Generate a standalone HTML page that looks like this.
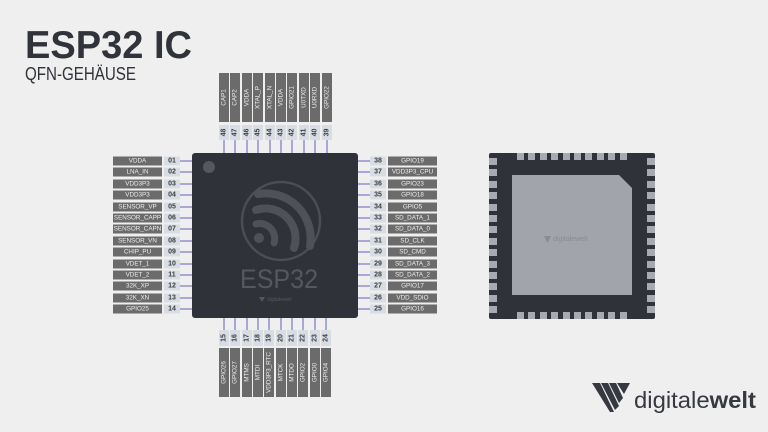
<!DOCTYPE html>
<html><head><meta charset="utf-8"><style>
html,body{margin:0;padding:0;background:#efefef;}
svg{display:block;font-family:"Liberation Sans",sans-serif;}
.lb{fill:#6b6b6b}.nb{fill:#d8dde4}
.lt{fill:#eeeeee;font-size:6.3px;text-anchor:middle;dominant-baseline:central}
.nt{fill:#3a3d44;font-size:7px;text-anchor:middle;dominant-baseline:central;font-weight:bold}
.ln{stroke:#7d76c9;stroke-width:1.2}
</style></head><body>
<svg width="768" height="432" viewBox="0 0 768 432">
<rect width="768" height="432" fill="#efefef"/>
<text x="25" y="58" font-size="39" font-weight="bold" fill="#30333a" textLength="167" lengthAdjust="spacingAndGlyphs">ESP32 IC</text>
<text x="25" y="80" font-size="18" fill="#30333a" textLength="111" lengthAdjust="spacingAndGlyphs">QFN-GEHÄUSE</text>

<!-- left pins -->
<g>
<g transform="translate(0,161)"><line class="ln" x1="180" x2="194" y1="0" y2="0"/><rect class="lb" x="113" y="-4.5" width="49" height="9"/><rect class="nb" x="164" y="-4.5" width="16" height="9"/><text class="lt" x="137.5" y="0">VDDA</text><text class="nt" x="172" y="0">01</text></g>
<g transform="translate(0,172)"><line class="ln" x1="180" x2="194" y1="0" y2="0"/><rect class="lb" x="113" y="-4.5" width="49" height="9"/><rect class="nb" x="164" y="-4.5" width="16" height="9"/><text class="lt" x="137.5" y="0">LNA_IN</text><text class="nt" x="172" y="0">02</text></g>
<g transform="translate(0,184)"><line class="ln" x1="180" x2="194" y1="0" y2="0"/><rect class="lb" x="113" y="-4.5" width="49" height="9"/><rect class="nb" x="164" y="-4.5" width="16" height="9"/><text class="lt" x="137.5" y="0">VDD3P3</text><text class="nt" x="172" y="0">03</text></g>
<g transform="translate(0,195)"><line class="ln" x1="180" x2="194" y1="0" y2="0"/><rect class="lb" x="113" y="-4.5" width="49" height="9"/><rect class="nb" x="164" y="-4.5" width="16" height="9"/><text class="lt" x="137.5" y="0">VDD3P3</text><text class="nt" x="172" y="0">04</text></g>
<g transform="translate(0,207)"><line class="ln" x1="180" x2="194" y1="0" y2="0"/><rect class="lb" x="113" y="-4.5" width="49" height="9"/><rect class="nb" x="164" y="-4.5" width="16" height="9"/><text class="lt" x="137.5" y="0">SENSOR_VP</text><text class="nt" x="172" y="0">05</text></g>
<g transform="translate(0,218)"><line class="ln" x1="180" x2="194" y1="0" y2="0"/><rect class="lb" x="113" y="-4.5" width="49" height="9"/><rect class="nb" x="164" y="-4.5" width="16" height="9"/><text class="lt" x="137.5" y="0">SENSOR_CAPP</text><text class="nt" x="172" y="0">06</text></g>
<g transform="translate(0,229)"><line class="ln" x1="180" x2="194" y1="0" y2="0"/><rect class="lb" x="113" y="-4.5" width="49" height="9"/><rect class="nb" x="164" y="-4.5" width="16" height="9"/><text class="lt" x="137.5" y="0">SENSOR_CAPN</text><text class="nt" x="172" y="0">07</text></g>
<g transform="translate(0,241)"><line class="ln" x1="180" x2="194" y1="0" y2="0"/><rect class="lb" x="113" y="-4.5" width="49" height="9"/><rect class="nb" x="164" y="-4.5" width="16" height="9"/><text class="lt" x="137.5" y="0">SENSOR_VN</text><text class="nt" x="172" y="0">08</text></g>
<g transform="translate(0,252)"><line class="ln" x1="180" x2="194" y1="0" y2="0"/><rect class="lb" x="113" y="-4.5" width="49" height="9"/><rect class="nb" x="164" y="-4.5" width="16" height="9"/><text class="lt" x="137.5" y="0">CHIP_PU</text><text class="nt" x="172" y="0">09</text></g>
<g transform="translate(0,264)"><line class="ln" x1="180" x2="194" y1="0" y2="0"/><rect class="lb" x="113" y="-4.5" width="49" height="9"/><rect class="nb" x="164" y="-4.5" width="16" height="9"/><text class="lt" x="137.5" y="0">VDET_1</text><text class="nt" x="172" y="0">10</text></g>
<g transform="translate(0,275)"><line class="ln" x1="180" x2="194" y1="0" y2="0"/><rect class="lb" x="113" y="-4.5" width="49" height="9"/><rect class="nb" x="164" y="-4.5" width="16" height="9"/><text class="lt" x="137.5" y="0">VDET_2</text><text class="nt" x="172" y="0">11</text></g>
<g transform="translate(0,286)"><line class="ln" x1="180" x2="194" y1="0" y2="0"/><rect class="lb" x="113" y="-4.5" width="49" height="9"/><rect class="nb" x="164" y="-4.5" width="16" height="9"/><text class="lt" x="137.5" y="0">32K_XP</text><text class="nt" x="172" y="0">12</text></g>
<g transform="translate(0,298)"><line class="ln" x1="180" x2="194" y1="0" y2="0"/><rect class="lb" x="113" y="-4.5" width="49" height="9"/><rect class="nb" x="164" y="-4.5" width="16" height="9"/><text class="lt" x="137.5" y="0">32K_XN</text><text class="nt" x="172" y="0">13</text></g>
<g transform="translate(0,309)"><line class="ln" x1="180" x2="194" y1="0" y2="0"/><rect class="lb" x="113" y="-4.5" width="49" height="9"/><rect class="nb" x="164" y="-4.5" width="16" height="9"/><text class="lt" x="137.5" y="0">GPIO25</text><text class="nt" x="172" y="0">14</text></g>
</g>

<!-- right pins -->
<g>
<g transform="translate(0,161)"><line class="ln" x1="356" x2="370" y1="0" y2="0"/><rect class="nb" x="370" y="-4.5" width="16" height="9"/><rect class="lb" x="388" y="-4.5" width="49" height="9"/><text class="nt" x="378" y="0">38</text><text class="lt" x="412.5" y="0">GPIO19</text></g>
<g transform="translate(0,172)"><line class="ln" x1="356" x2="370" y1="0" y2="0"/><rect class="nb" x="370" y="-4.5" width="16" height="9"/><rect class="lb" x="388" y="-4.5" width="49" height="9"/><text class="nt" x="378" y="0">37</text><text class="lt" x="412.5" y="0">VDD3P3_CPU</text></g>
<g transform="translate(0,184)"><line class="ln" x1="356" x2="370" y1="0" y2="0"/><rect class="nb" x="370" y="-4.5" width="16" height="9"/><rect class="lb" x="388" y="-4.5" width="49" height="9"/><text class="nt" x="378" y="0">36</text><text class="lt" x="412.5" y="0">GPIO23</text></g>
<g transform="translate(0,195)"><line class="ln" x1="356" x2="370" y1="0" y2="0"/><rect class="nb" x="370" y="-4.5" width="16" height="9"/><rect class="lb" x="388" y="-4.5" width="49" height="9"/><text class="nt" x="378" y="0">35</text><text class="lt" x="412.5" y="0">GPIO18</text></g>
<g transform="translate(0,207)"><line class="ln" x1="356" x2="370" y1="0" y2="0"/><rect class="nb" x="370" y="-4.5" width="16" height="9"/><rect class="lb" x="388" y="-4.5" width="49" height="9"/><text class="nt" x="378" y="0">34</text><text class="lt" x="412.5" y="0">GPIO5</text></g>
<g transform="translate(0,218)"><line class="ln" x1="356" x2="370" y1="0" y2="0"/><rect class="nb" x="370" y="-4.5" width="16" height="9"/><rect class="lb" x="388" y="-4.5" width="49" height="9"/><text class="nt" x="378" y="0">33</text><text class="lt" x="412.5" y="0">SD_DATA_1</text></g>
<g transform="translate(0,229)"><line class="ln" x1="356" x2="370" y1="0" y2="0"/><rect class="nb" x="370" y="-4.5" width="16" height="9"/><rect class="lb" x="388" y="-4.5" width="49" height="9"/><text class="nt" x="378" y="0">32</text><text class="lt" x="412.5" y="0">SD_DATA_0</text></g>
<g transform="translate(0,241)"><line class="ln" x1="356" x2="370" y1="0" y2="0"/><rect class="nb" x="370" y="-4.5" width="16" height="9"/><rect class="lb" x="388" y="-4.5" width="49" height="9"/><text class="nt" x="378" y="0">31</text><text class="lt" x="412.5" y="0">SD_CLK</text></g>
<g transform="translate(0,252)"><line class="ln" x1="356" x2="370" y1="0" y2="0"/><rect class="nb" x="370" y="-4.5" width="16" height="9"/><rect class="lb" x="388" y="-4.5" width="49" height="9"/><text class="nt" x="378" y="0">30</text><text class="lt" x="412.5" y="0">SD_CMD</text></g>
<g transform="translate(0,264)"><line class="ln" x1="356" x2="370" y1="0" y2="0"/><rect class="nb" x="370" y="-4.5" width="16" height="9"/><rect class="lb" x="388" y="-4.5" width="49" height="9"/><text class="nt" x="378" y="0">29</text><text class="lt" x="412.5" y="0">SD_DATA_3</text></g>
<g transform="translate(0,275)"><line class="ln" x1="356" x2="370" y1="0" y2="0"/><rect class="nb" x="370" y="-4.5" width="16" height="9"/><rect class="lb" x="388" y="-4.5" width="49" height="9"/><text class="nt" x="378" y="0">28</text><text class="lt" x="412.5" y="0">SD_DATA_2</text></g>
<g transform="translate(0,286)"><line class="ln" x1="356" x2="370" y1="0" y2="0"/><rect class="nb" x="370" y="-4.5" width="16" height="9"/><rect class="lb" x="388" y="-4.5" width="49" height="9"/><text class="nt" x="378" y="0">27</text><text class="lt" x="412.5" y="0">GPIO17</text></g>
<g transform="translate(0,298)"><line class="ln" x1="356" x2="370" y1="0" y2="0"/><rect class="nb" x="370" y="-4.5" width="16" height="9"/><rect class="lb" x="388" y="-4.5" width="49" height="9"/><text class="nt" x="378" y="0">26</text><text class="lt" x="412.5" y="0">VDD_SDIO</text></g>
<g transform="translate(0,309)"><line class="ln" x1="356" x2="370" y1="0" y2="0"/><rect class="nb" x="370" y="-4.5" width="16" height="9"/><rect class="lb" x="388" y="-4.5" width="49" height="9"/><text class="nt" x="378" y="0">25</text><text class="lt" x="412.5" y="0">GPIO16</text></g>
</g>

<!-- top pins -->
<g>
<g transform="translate(224,0)"><line class="ln" x1="0" x2="0" y1="140" y2="155"/><rect class="lb" x="-5" y="73" width="10" height="49"/><rect class="nb" x="-5" y="125" width="10" height="15"/><text class="lt" transform="translate(0,97.5) rotate(-90)">CAP1</text><text class="nt" transform="translate(0,132.5) rotate(-90)">48</text></g>
<g transform="translate(235,0)"><line class="ln" x1="0" x2="0" y1="140" y2="155"/><rect class="lb" x="-5" y="73" width="10" height="49"/><rect class="nb" x="-5" y="125" width="10" height="15"/><text class="lt" transform="translate(0,97.5) rotate(-90)">CAP2</text><text class="nt" transform="translate(0,132.5) rotate(-90)">47</text></g>
<g transform="translate(247,0)"><line class="ln" x1="0" x2="0" y1="140" y2="155"/><rect class="lb" x="-5" y="73" width="10" height="49"/><rect class="nb" x="-5" y="125" width="10" height="15"/><text class="lt" transform="translate(0,97.5) rotate(-90)">VDDA</text><text class="nt" transform="translate(0,132.5) rotate(-90)">46</text></g>
<g transform="translate(258,0)"><line class="ln" x1="0" x2="0" y1="140" y2="155"/><rect class="lb" x="-5" y="73" width="10" height="49"/><rect class="nb" x="-5" y="125" width="10" height="15"/><text class="lt" transform="translate(0,97.5) rotate(-90)">XTAL_P</text><text class="nt" transform="translate(0,132.5) rotate(-90)">45</text></g>
<g transform="translate(270,0)"><line class="ln" x1="0" x2="0" y1="140" y2="155"/><rect class="lb" x="-5" y="73" width="10" height="49"/><rect class="nb" x="-5" y="125" width="10" height="15"/><text class="lt" transform="translate(0,97.5) rotate(-90)">XTAL_N</text><text class="nt" transform="translate(0,132.5) rotate(-90)">44</text></g>
<g transform="translate(281,0)"><line class="ln" x1="0" x2="0" y1="140" y2="155"/><rect class="lb" x="-5" y="73" width="10" height="49"/><rect class="nb" x="-5" y="125" width="10" height="15"/><text class="lt" transform="translate(0,97.5) rotate(-90)">VDDA</text><text class="nt" transform="translate(0,132.5) rotate(-90)">43</text></g>
<g transform="translate(292,0)"><line class="ln" x1="0" x2="0" y1="140" y2="155"/><rect class="lb" x="-5" y="73" width="10" height="49"/><rect class="nb" x="-5" y="125" width="10" height="15"/><text class="lt" transform="translate(0,97.5) rotate(-90)">GPIO21</text><text class="nt" transform="translate(0,132.5) rotate(-90)">42</text></g>
<g transform="translate(304,0)"><line class="ln" x1="0" x2="0" y1="140" y2="155"/><rect class="lb" x="-5" y="73" width="10" height="49"/><rect class="nb" x="-5" y="125" width="10" height="15"/><text class="lt" transform="translate(0,97.5) rotate(-90)">U0TXD</text><text class="nt" transform="translate(0,132.5) rotate(-90)">41</text></g>
<g transform="translate(315,0)"><line class="ln" x1="0" x2="0" y1="140" y2="155"/><rect class="lb" x="-5" y="73" width="10" height="49"/><rect class="nb" x="-5" y="125" width="10" height="15"/><text class="lt" transform="translate(0,97.5) rotate(-90)">U0RXD</text><text class="nt" transform="translate(0,132.5) rotate(-90)">40</text></g>
<g transform="translate(327,0)"><line class="ln" x1="0" x2="0" y1="140" y2="155"/><rect class="lb" x="-5" y="73" width="10" height="49"/><rect class="nb" x="-5" y="125" width="10" height="15"/><text class="lt" transform="translate(0,97.5) rotate(-90)">GPIO22</text><text class="nt" transform="translate(0,132.5) rotate(-90)">39</text></g>
</g>

<!-- bottom pins -->
<g>
<g transform="translate(224,0)"><line class="ln" x1="0" x2="0" y1="316" y2="330"/><rect class="nb" x="-5" y="330" width="10" height="16"/><rect class="lb" x="-5" y="348" width="10" height="49"/><text class="nt" transform="translate(0,338) rotate(-90)">15</text><text class="lt" transform="translate(0,372.5) rotate(-90)">GPIO26</text></g>
<g transform="translate(235,0)"><line class="ln" x1="0" x2="0" y1="316" y2="330"/><rect class="nb" x="-5" y="330" width="10" height="16"/><rect class="lb" x="-5" y="348" width="10" height="49"/><text class="nt" transform="translate(0,338) rotate(-90)">16</text><text class="lt" transform="translate(0,372.5) rotate(-90)">GPIO27</text></g>
<g transform="translate(247,0)"><line class="ln" x1="0" x2="0" y1="316" y2="330"/><rect class="nb" x="-5" y="330" width="10" height="16"/><rect class="lb" x="-5" y="348" width="10" height="49"/><text class="nt" transform="translate(0,338) rotate(-90)">17</text><text class="lt" transform="translate(0,372.5) rotate(-90)">MTMS</text></g>
<g transform="translate(258,0)"><line class="ln" x1="0" x2="0" y1="316" y2="330"/><rect class="nb" x="-5" y="330" width="10" height="16"/><rect class="lb" x="-5" y="348" width="10" height="49"/><text class="nt" transform="translate(0,338) rotate(-90)">18</text><text class="lt" transform="translate(0,372.5) rotate(-90)">MTDI</text></g>
<g transform="translate(269,0)"><line class="ln" x1="0" x2="0" y1="316" y2="330"/><rect class="nb" x="-5" y="330" width="10" height="16"/><rect class="lb" x="-5" y="348" width="10" height="49"/><text class="nt" transform="translate(0,338) rotate(-90)">19</text><text class="lt" transform="translate(0,372.5) rotate(-90)">VDD3P3_RTC</text></g>
<g transform="translate(281,0)"><line class="ln" x1="0" x2="0" y1="316" y2="330"/><rect class="nb" x="-5" y="330" width="10" height="16"/><rect class="lb" x="-5" y="348" width="10" height="49"/><text class="nt" transform="translate(0,338) rotate(-90)">20</text><text class="lt" transform="translate(0,372.5) rotate(-90)">MTCK</text></g>
<g transform="translate(292,0)"><line class="ln" x1="0" x2="0" y1="316" y2="330"/><rect class="nb" x="-5" y="330" width="10" height="16"/><rect class="lb" x="-5" y="348" width="10" height="49"/><text class="nt" transform="translate(0,338) rotate(-90)">21</text><text class="lt" transform="translate(0,372.5) rotate(-90)">MTDO</text></g>
<g transform="translate(303,0)"><line class="ln" x1="0" x2="0" y1="316" y2="330"/><rect class="nb" x="-5" y="330" width="10" height="16"/><rect class="lb" x="-5" y="348" width="10" height="49"/><text class="nt" transform="translate(0,338) rotate(-90)">22</text><text class="lt" transform="translate(0,372.5) rotate(-90)">GPIO2</text></g>
<g transform="translate(315,0)"><line class="ln" x1="0" x2="0" y1="316" y2="330"/><rect class="nb" x="-5" y="330" width="10" height="16"/><rect class="lb" x="-5" y="348" width="10" height="49"/><text class="nt" transform="translate(0,338) rotate(-90)">23</text><text class="lt" transform="translate(0,372.5) rotate(-90)">GPIO0</text></g>
<g transform="translate(326,0)"><line class="ln" x1="0" x2="0" y1="316" y2="330"/><rect class="nb" x="-5" y="330" width="10" height="16"/><rect class="lb" x="-5" y="348" width="10" height="49"/><text class="nt" transform="translate(0,338) rotate(-90)">24</text><text class="lt" transform="translate(0,372.5) rotate(-90)">GPIO4</text></g>
</g>

<!-- main chip -->
<rect x="192" y="153" width="166" height="165" rx="3" fill="#2f3238"/>
<circle cx="209" cy="167" r="6" fill="#55585f"/>
<g fill="none" stroke="#4b4e55">
<circle cx="281" cy="221" r="39" stroke-width="2.5"/>
</g>
<g fill="none" stroke="#4e5158" stroke-linecap="round">
<path d="M258 194 A45 45 0 0 1 310 246" stroke-width="8"/>
<path d="M256 210 A30 30 0 0 1 294 248" stroke-width="8"/>
<path d="M256 224 A15 15 0 0 1 274 243" stroke-width="7"/>
</g>
<circle cx="259" cy="238" r="5" fill="#4e5158"/>
<text x="279" y="288" font-size="27" fill="#55585f" text-anchor="middle" textLength="78" lengthAdjust="spacingAndGlyphs">ESP32</text>
<path d="M259 297 l6 0 -3 5z" fill="#55585f"/>
<text x="267" y="301" font-size="5" fill="#55585f">digitalewelt</text>

<!-- right chip -->
<rect x="489" y="153" width="166" height="166" rx="2" fill="#2f3238"/>
<g fill="#a7abb1">
<rect x="517" y="153" width="7" height="7"/><rect x="528" y="153" width="7" height="7"/><rect x="540" y="153" width="7" height="7"/><rect x="551" y="153" width="7" height="7"/><rect x="563" y="153" width="7" height="7"/><rect x="574" y="153" width="7" height="7"/><rect x="585" y="153" width="7" height="7"/><rect x="597" y="153" width="7" height="7"/><rect x="608" y="153" width="7" height="7"/><rect x="620" y="153" width="7" height="7"/>
<rect x="517" y="312" width="7" height="7"/><rect x="528" y="312" width="7" height="7"/><rect x="540" y="312" width="7" height="7"/><rect x="551" y="312" width="7" height="7"/><rect x="563" y="312" width="7" height="7"/><rect x="574" y="312" width="7" height="7"/><rect x="585" y="312" width="7" height="7"/><rect x="597" y="312" width="7" height="7"/><rect x="608" y="312" width="7" height="7"/><rect x="620" y="312" width="7" height="7"/>
<rect x="489" y="158" width="8" height="7"/><rect x="489" y="169" width="8" height="7"/><rect x="489" y="181" width="8" height="7"/><rect x="489" y="192" width="8" height="7"/><rect x="489" y="204" width="8" height="7"/><rect x="489" y="215" width="8" height="7"/><rect x="489" y="226" width="8" height="7"/><rect x="489" y="238" width="8" height="7"/><rect x="489" y="249" width="8" height="7"/><rect x="489" y="261" width="8" height="7"/><rect x="489" y="272" width="8" height="7"/><rect x="489" y="283" width="8" height="7"/><rect x="489" y="295" width="8" height="7"/><rect x="489" y="306" width="8" height="7"/>
<rect x="647" y="158" width="8" height="7"/><rect x="647" y="169" width="8" height="7"/><rect x="647" y="181" width="8" height="7"/><rect x="647" y="192" width="8" height="7"/><rect x="647" y="204" width="8" height="7"/><rect x="647" y="215" width="8" height="7"/><rect x="647" y="226" width="8" height="7"/><rect x="647" y="238" width="8" height="7"/><rect x="647" y="249" width="8" height="7"/><rect x="647" y="261" width="8" height="7"/><rect x="647" y="272" width="8" height="7"/><rect x="647" y="283" width="8" height="7"/><rect x="647" y="295" width="8" height="7"/><rect x="647" y="306" width="8" height="7"/>
</g>
<path d="M512 175 L619 175 L632 188 L632 295 L512 295 Z" fill="#a1a5ab"/>
<path d="M544 236 l7 0 -3.5 7z" fill="#888c92"/>
<text x="553" y="241" font-size="7" fill="#888c92">digitalewelt</text>

<!-- logo -->
<g fill="#363940">
<path d="M592 383 L600 383 L614 412 L610 412 Z"/>
<path d="M601 383 L608 383 L619 406 L615 410 Z"/>
<path d="M609 383 L616 383 L623 398 L619 403 Z"/>
<path d="M617 383 L630 383 L624 394 Z"/>
</g>
<text x="634" y="408" font-size="23" fill="#363940" textLength="122" lengthAdjust="spacingAndGlyphs">digitale<tspan font-weight="bold">welt</tspan></text>
</svg>
</body></html>
